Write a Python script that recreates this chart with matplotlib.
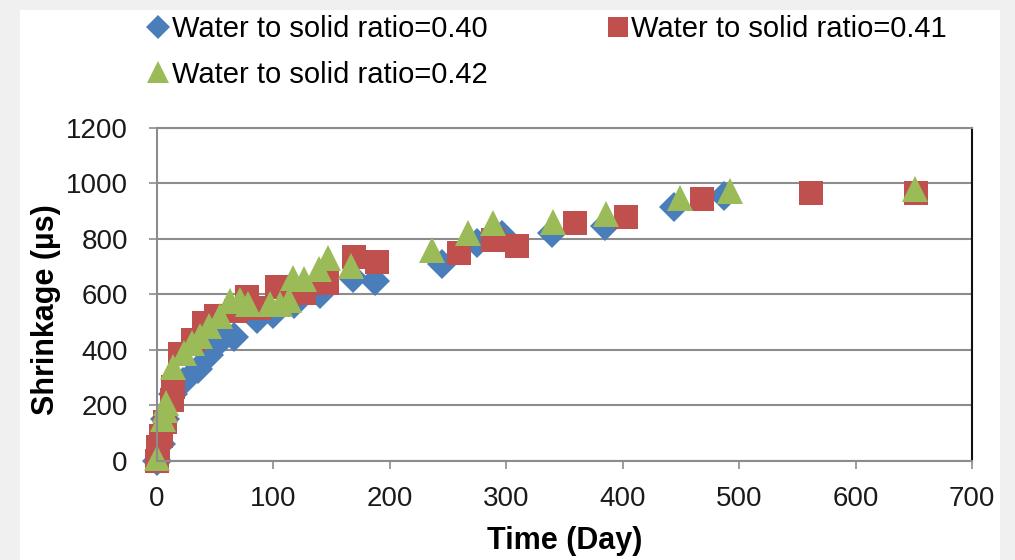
import matplotlib
matplotlib.use("Agg")
from matplotlib import pyplot as plt
from matplotlib.patches import Rectangle

plt.rcParams['font.family'] = ['Liberation Sans', 'DejaVu Sans']

# Water to solid ratio = 0.40
days_040 = [0, 3, 7, 14, 22, 35, 45, 54, 58, 66, 86, 100, 118, 140, 168, 187,
            245, 275, 296, 339, 385, 444, 487]
shrink_040 = [0, 60, 150, 240, 285, 330, 380, 430, 450, 445, 510, 530, 565, 600, 660, 648,
              710, 785, 815, 820, 845, 915, 955]

# Water to solid ratio = 0.41
days_041 = [0, 1, 3, 7, 13, 14, 20, 31, 40, 51, 68, 77, 88, 103, 126, 146, 169, 189,
            259, 289, 309, 359, 403, 468, 562, 652]
shrink_041 = [0, 50, 90, 140, 220, 265, 385, 435, 495, 520, 540, 590, 550, 625, 605, 640, 735, 715,
              747, 795, 772, 855, 878, 941, 966, 966]

# Water to solid ratio = 0.42
days_042 = [0, 5, 7, 8, 14, 23, 30, 37, 45, 54, 63, 71, 78, 97, 106, 113, 117, 126, 139, 147, 167,
            236, 267, 289, 340, 386, 449, 492, 651]
shrink_042 = [10, 150, 185, 210, 340, 390, 425, 450, 485, 520, 575, 580, 565, 565, 565, 580, 660, 655, 690, 730, 700,
              760, 820, 855, 860, 890, 945, 970, 980]

labels = ["Water to solid ratio=0.40", "Water to solid ratio=0.41", "Water to solid ratio=0.42"]
x_ticks = [0, 100, 200, 300, 400, 500, 600, 700]
y_ticks = [0, 200, 400, 600, 800, 1000, 1200]

fig = plt.figure(figsize=(10.15, 5.6), dpi=100, facecolor='#f0f0f0')
# white panel behind the chart
fig.patches.append(Rectangle((20 / 1015, 0), 980 / 1015, 550 / 560, transform=fig.transFigure,
                             facecolor='white', edgecolor='none', zorder=-10))

ax = fig.add_axes([0.1547, 0.1768, 0.8029, 0.5955])
ax.set_facecolor('white')

# Excel style: markers are not clipped at the plot border
h1, = ax.plot(days_040, shrink_040, 'D', color='#4a7ebb', markersize=15, markeredgewidth=0,
              label=labels[0], clip_on=False)
h2, = ax.plot(days_041, shrink_041, 's', color='#c0504d', markersize=17.5, markeredgewidth=0,
              label=labels[1], clip_on=False)
h3, = ax.plot(days_042, shrink_042, '^', color='#9bbb59', markersize=19, markeredgewidth=0,
              label=labels[2], clip_on=False)

ax.set_xlim(0, 700)
ax.set_ylim(0, 1200)
ax.set_xticks(x_ticks)
ax.set_yticks(y_ticks)
ax.yaxis.grid(True, color='#8c8c8c', linewidth=1.5)
ax.set_axisbelow(True)
ax.tick_params(axis='both', labelsize=20, colors='#1a1a1a', length=6, width=1.2)
ax.tick_params(axis='x', color='#8c8c8c', pad=12)
ax.tick_params(axis='y', color='#8c8c8c', pad=15)

for side in ['left', 'bottom', 'top']:
    ax.spines[side].set_color('#8c8c8c')
    ax.spines[side].set_linewidth(1.5)
ax.spines['right'].set_color('#111111')
ax.spines['right'].set_linewidth(1.5)

ax.set_xlabel("Time (Day)", fontsize=22, fontweight='bold', labelpad=10)
ax.set_ylabel("Shrinkage (\u00b5s)", fontsize=22, fontweight='bold')
ax.yaxis.set_label_coords(-0.118, 0.453)

fig.legend([h1, h3, h2], [labels[0], labels[2], labels[1]], ncol=2, frameon=False,
           loc='upper left', bbox_to_anchor=(0.12, 1.02), fontsize=21,
           markerscale=0.8, handlelength=0.7, handletextpad=0.12,
           columnspacing=4.1, labelspacing=0.6)

fig.savefig("out.png", dpi=100, facecolor=fig.get_facecolor())
